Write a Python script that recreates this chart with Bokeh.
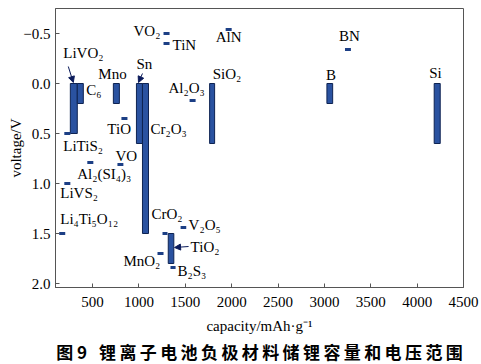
from bokeh.plotting import figure
from bokeh.models import (Range1d, FixedTicker, Title, Arrow, NormalHead,
                          ColumnDataSource)
from bokeh.core.properties import value
from bokeh.embed import file_html
from bokeh.resources import INLINE

# ---- data: materials drawn as voltage ranges (bars) ----
bar_names = ["LiVO₂", "C₆", "Mno", "Sn", "Cr₂O₃", "SiO₂", "B", "Si", "TiO₂"]
bar_cap_lo = [260, 335, 724, 973, 1038, 1762, 3027, 4184, 1316]
bar_cap_hi = [335, 400, 789, 1038, 1103, 1816, 3089, 4249, 1376]
bar_v_lo = [0.0, 0.0, 0.0, 0.0, 0.0, 0.0, 0.0, 0.0, 1.5]
bar_v_hi = [0.5, 0.2, 0.2, 0.6, 1.5, 0.6, 0.2, 0.6, 1.8]

# ---- data: materials drawn as single voltage levels (dashes) ----
dash_names = ["LiTiS₂", "LiVS₂", "Li₄Ti₅O₁₂", "Al₂(SI₄)₃", "VO", "TiO", "MnO₂",
              "CrO₂", "VO₂", "TiN", "B₂S₃", "V₂O₅", "Al₂O₃", "AlN", "BN"]
dash_cap_lo = [195, 195, 140, 443, 768, 811, 1200, 1254, 1265, 1265, 1340, 1449, 1546, 1935, 3222]
dash_cap_hi = [260, 260, 205, 508, 832, 876, 1265, 1308, 1330, 1330, 1395, 1510, 1611, 2000, 3286]
dash_v = [0.5, 1.0, 1.5, 0.79, 0.81, 0.35, 1.7, 1.5, -0.5, -0.4, 1.84, 1.44, 0.17, -0.54, -0.34]

# ---- tick values ----
x_ticks = [500, 1000, 1500, 2000, 2500, 3000, 3500, 4000, 4500]
y_ticks = [-0.5, 0.0, 0.5, 1.0, 1.5, 2.0]
y_tick_labels = ["\u22120.5", "0.0", "0.5", "1.0", "1.5", "2.0"]

# ---- label placement (layout, in data units) ----
label_text = ["LiVO₂", "C₆", "Mno", "Sn", "TiO", "Cr₂O₃", "LiTiS₂", "VO",
              "Al₂(SI₄)₃", "LiVS₂", "Li₄Ti₅O₁₂", "VO₂", "TiN", "Al₂O₃", "SiO₂",
              "AlN", "BN", "B", "Si", "CrO₂", "V₂O₅", "TiO₂", "MnO₂", "B₂S₃"]
label_x = [184, 432, 562, 973, 659, 1124, 184, 746, 335, 151, 151, 941, 1362,
           1319, 1795, 1827, 3157, 3016, 4130, 1135, 1535, 1557, 832, 1416]
label_y = [-0.31, 0.06, -0.10, -0.20, 0.45, 0.45, 0.62, 0.72, 0.90, 1.09, 1.35,
           -0.53, -0.39, 0.04, -0.10, -0.47, -0.48, -0.09, -0.11, 1.30, 1.41,
           1.63, 1.77, 1.87]

# arrows (start -> end) in data units
arrow_x0 = [238, 1038, 1535]
arrow_y0 = [-0.17, -0.10, 1.63]
arrow_x1 = [292, 995, 1384]
arrow_y1 = [-0.01, -0.01, 1.64]

SERIF = "Liberation Serif"
BAR_FILL = "#2a52a0"
BAR_LINE = "#0e2352"
DASH = "#1c3f85"

p = figure(width=480, height=363, output_backend="svg", toolbar_location=None,
           x_range=Range1d(100, 4500), y_range=Range1d(2.04, -0.75),
           min_border_left=55, min_border_right=17, min_border_top=8,
           min_border_bottom=0)
p.grid.visible = False
p.outline_line_color = "#555555"
p.background_fill_color = "white"
p.border_fill_color = "white"

p.quad(left=bar_cap_lo, right=bar_cap_hi, top=bar_v_lo, bottom=bar_v_hi,
       fill_color=BAR_FILL, line_color=BAR_LINE, line_width=1)
p.segment(x0=dash_cap_lo, x1=dash_cap_hi, y0=dash_v, y1=dash_v,
          line_color=DASH, line_width=3)

src = ColumnDataSource(dict(x=label_x, y=label_y, t=label_text))
p.text(x="x", y="y", text="t", source=src, text_font=value(SERIF),
       text_font_size="15px", text_color="black", text_align="left",
       text_baseline="middle")

for x0, y0, x1, y1 in zip(arrow_x0, arrow_y0, arrow_x1, arrow_y1):
    p.add_layout(Arrow(x_start=x0, y_start=y0, x_end=x1, y_end=y1,
                       line_color="#0a1a5a", line_width=1,
                       end=NormalHead(size=6, fill_color="#0a1a5a",
                                      line_color="#0a1a5a")))

for ax in (p.xaxis[0], p.yaxis[0]):
    ax.major_tick_in = 4
    ax.major_tick_out = 0
    ax.minor_tick_line_color = None
    ax.axis_line_color = "#555555"
    ax.major_tick_line_color = "#555555"
    ax.major_label_text_font = SERIF
    ax.major_label_text_font_size = "15px"
    ax.major_label_text_color = "black"
    ax.axis_label_text_font = SERIF
    ax.axis_label_text_font_size = "15px"
    ax.axis_label_text_font_style = "normal"
    ax.axis_label_text_color = "black"

p.xaxis.ticker = FixedTicker(ticks=x_ticks)
p.yaxis.ticker = FixedTicker(ticks=y_ticks)
p.yaxis.major_label_overrides = {t: l for t, l in zip(y_ticks, y_tick_labels)}
p.xaxis.axis_label = "capacity/mAh·g⁻¹"
p.yaxis.axis_label = "voltage/V"
p.xaxis.major_label_standoff = 9
p.xaxis.axis_label_standoff = 8
p.yaxis.major_label_standoff = 5
p.yaxis.axis_label_standoff = -4

caption = "图 9\u2002\u2009" + "\u2009".join("锂离子电池负极材料储锂容量和电压范围")
p.add_layout(Title(text=caption, align="center", text_font="Noto Sans CJK SC",
                   text_font_size="17px", text_font_style="bold",
                   text_color="black", standoff=0, offset=0), "below")

open("out.html", "w").write(file_html(p, INLINE))
